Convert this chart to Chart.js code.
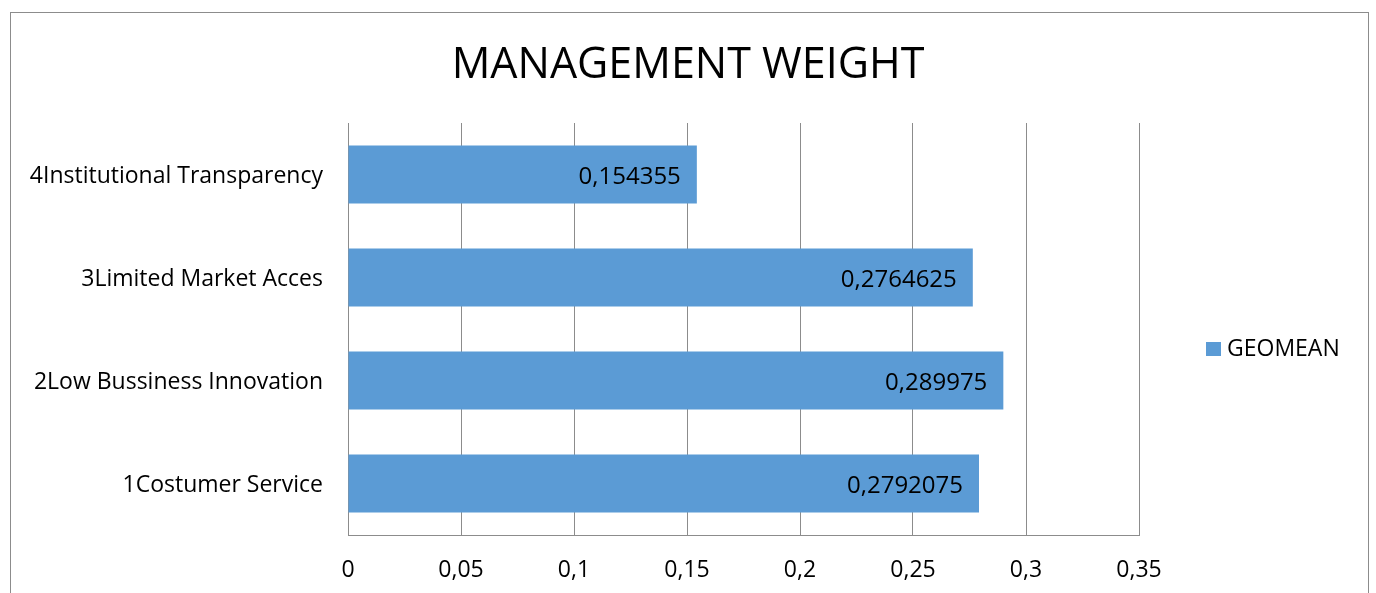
<!DOCTYPE html>
<html>
<head>
<meta charset="utf-8">
<script src="https://cdn.jsdelivr.net/npm/chart.js@4.4.1/dist/chart.umd.min.js"></script>
<style>
html,body{margin:0;padding:0;background:#fff;}
#wrap{position:absolute;left:0;top:0;width:1376px;height:593px;}
</style>
</head>
<body>
<div id="wrap"><canvas id="c" width="1376" height="593"></canvas></div>
<script>
const chartTitle = 'MANAGEMENT WEIGHT';
const seriesName = 'GEOMEAN';
const categories = ['4Institutional Transparency', '3Limited Market Acces', '2Low Bussiness Innovation', '1Costumer Service'];
const geomeanValues = [0.154355, 0.2764625, 0.289975, 0.2792075];
const xTickMin = 0;
const xTickMax = 0.35;
const xTickStep = 0.05;

const FONT = "'Open Sans', sans-serif";
const BAR_COLOR = '#5B9BD5';
const GRID_COLOR = '#8C8C8C';

function fmt(v){ return String(+v.toFixed(7)).replace('.', ','); }

const decor = {
  id: 'decor',
  beforeDraw(chart){
    const ctx = chart.ctx;
    ctx.save();
    ctx.fillStyle = '#fff';
    ctx.fillRect(0,0,chart.width,chart.height);
    ctx.strokeStyle = '#8C8C8C';
    ctx.lineWidth = 1;
    ctx.strokeRect(10.5, 12.5, 1358, 620);
    ctx.restore();
  },
  afterDatasetsDraw(chart){
    const ctx = chart.ctx;
    const meta = chart.getDatasetMeta(0);
    const ds = chart.data.datasets[0];
    ctx.save();
    ctx.font = '24px ' + FONT;
    ctx.fillStyle = '#000';
    ctx.textAlign = 'right';
    ctx.textBaseline = 'middle';
    meta.data.forEach((bar, i) => {
      ctx.fillText(fmt(ds.data[i]), bar.x - 16, bar.y + 3);
    });
    // legend
    const a = chart.chartArea;
    const ly = (a.top + a.bottom) / 2 + 20;
    ctx.fillStyle = BAR_COLOR;
    ctx.fillRect(a.right + 67, ly - 7, 15, 14);
    ctx.fillStyle = '#000';
    ctx.textAlign = 'left';
    ctx.font = '23px ' + FONT;
    ctx.fillText(ds.label, a.right + 88, ly);
    ctx.restore();
  }
};

new Chart(document.getElementById('c'), {
  type: 'bar',
  data: {
    labels: categories,
    datasets: [{
      label: seriesName,
      data: geomeanValues,
      backgroundColor: BAR_COLOR,
      borderWidth: 0,
      barPercentage: 0.563,
      categoryPercentage: 1
    }]
  },
  options: {
    indexAxis: 'y',
    responsive: false,
    animation: false,
    devicePixelRatio: 1,
    layout: { padding: 0 },
    plugins: {
      legend: { display: false },
      tooltip: { enabled: false },
      title: {
        display: true,
        text: chartTitle,
        color: '#000',
        font: { family: FONT, size: 43, weight: 'normal', lineHeight: 1.2 },
        padding: { top: 40, bottom: 31.4 }
      }
    },
    scales: {
      x: {
        min: xTickMin,
        max: xTickMax,
        afterFit(s){ s.height = 593 - 535; },
        ticks: {
          stepSize: xTickStep,
          color: '#000',
          font: { family: FONT, size: 23 },
          padding: 22,
          callback: v => fmt(Math.round(v*100)/100)
        },
        grid: { color: GRID_COLOR, drawTicks: false, lineWidth: 1 },
        border: { color: GRID_COLOR, width: 1 }
      },
      y: {
        afterFit(s){ s.width = 348; },
        ticks: {
          color: '#000',
          font: { family: FONT, size: 23 },
          padding: 25,
          labelOffset: 2
        },
        grid: { display: false, drawTicks: false },
        border: { color: GRID_COLOR, width: 1 }
      },
      yRight: {
        type: 'category',
        position: 'right',
        display: true,
        afterFit(s){ s.width = 1376 - 1139; },
        ticks: { display: false },
        grid: { display: false, drawTicks: false },
        border: { display: false }
      }
    }
  },
  plugins: [decor]
});
</script>
</body>
</html>
